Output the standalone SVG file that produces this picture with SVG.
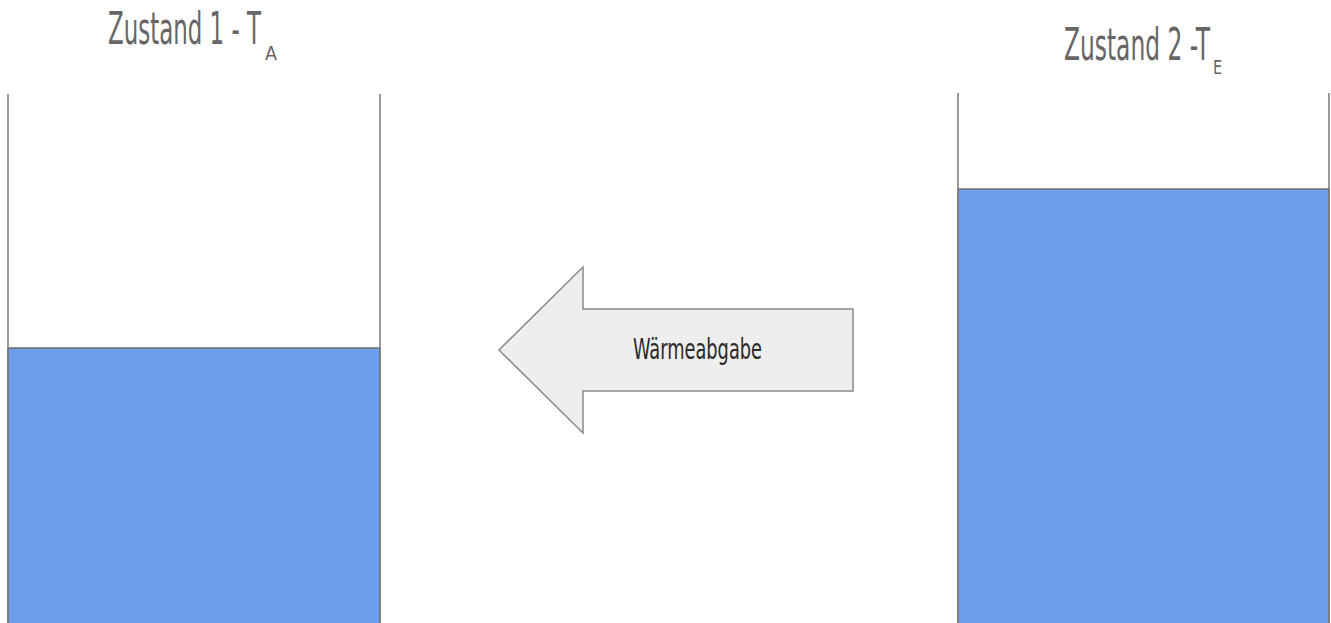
<svg xmlns="http://www.w3.org/2000/svg" width="1331" height="623" viewBox="0 0 1331 623">
<style>
.wall{fill:none;stroke:#7a7a7a;stroke-width:1.5}
.water{fill:#6d9eeb;stroke:#6f6f6f;stroke-width:1.5}
.title{font-family:"Liberation Sans Narrow","DejaVu Sans Condensed","Liberation Sans",sans-serif;fill:#666666}
.lbl{font-family:"Liberation Sans Narrow","DejaVu Sans Condensed","Liberation Sans",sans-serif;fill:#2b2b2b}
</style>
<rect x="0" y="0" width="1331" height="623" fill="#ffffff"/>
<g id="beaker1">
<rect class="water" x="8" y="348" width="372" height="280"/>
<path class="wall" d="M8,94 V623 M380,94 V623"/>
<text class="title" x="108" y="44" font-size="44"><tspan textLength="153" lengthAdjust="spacingAndGlyphs">Zustand 1 - T</tspan><tspan x="265" y="60" font-size="19" textLength="12" lengthAdjust="spacingAndGlyphs">A</tspan></text>
</g>
<g id="beaker2">
<rect class="water" x="958" y="189" width="371" height="440"/>
<path class="wall" d="M958,93 V623 M1329,93 V623"/>
<text class="title" x="1064" y="60" font-size="44"><tspan textLength="146" lengthAdjust="spacingAndGlyphs">Zustand 2 -T</tspan><tspan x="1213" y="74" font-size="19" textLength="9" lengthAdjust="spacingAndGlyphs">E</tspan></text>
</g>
<g id="connectors">
<g id="arrow">
<polygon points="499,350 583,267 583,309 853,309 853,391 583,391 583,433" fill="#eeeeee" stroke="#8a8a8a" stroke-width="1.5"/>
<text class="lbl" x="633" y="359" font-size="29" textLength="129" lengthAdjust="spacingAndGlyphs">Wärmeabgabe</text>
</g>
</g>
</svg>
